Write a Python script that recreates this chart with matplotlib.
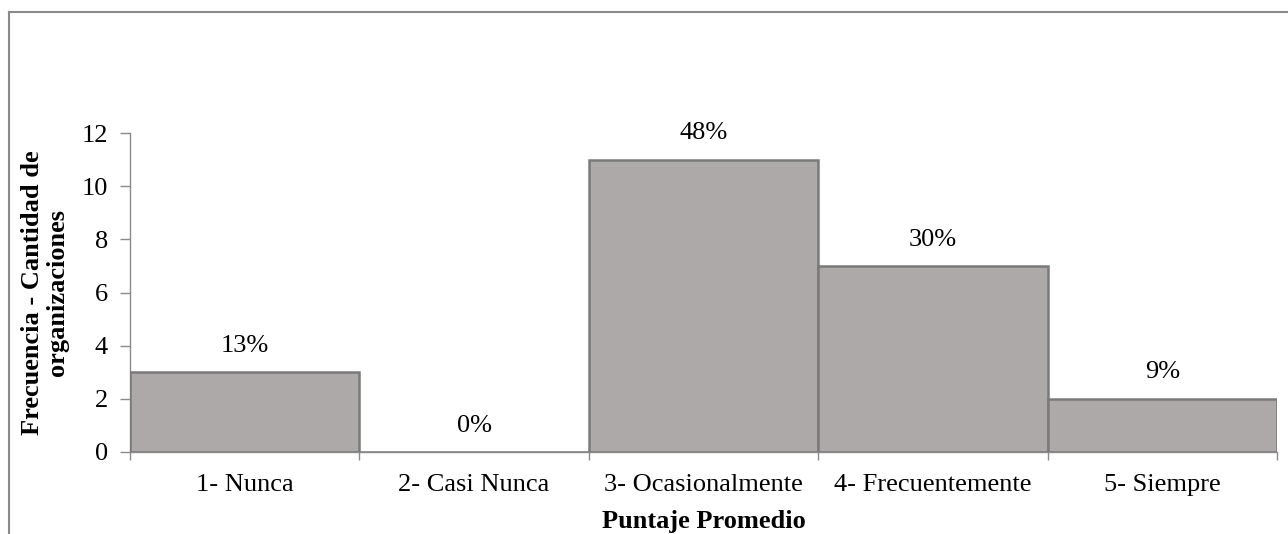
import matplotlib
matplotlib.use("Agg")
import matplotlib.pyplot as plt
from matplotlib.lines import Line2D

categorias = ["1- Nunca", "2- Casi Nunca", "3- Ocasionalmente", "4- Frecuentemente", "5- Siempre"]
frecuencias = [3, 0, 11, 7, 2]
porcentajes = ["13%", "0%", "48%", "30%", "9%"]
yticks = [0, 2, 4, 6, 8, 10, 12]

plt.rcParams["font.family"] = ["Liberation Serif", "DejaVu Serif"]

gris_borde = "#8a8a8a"
fs = 19
fig = plt.figure(figsize=(12.88, 5.34), dpi=100)
ax = fig.add_axes([130 / 1288, 82 / 534, 1147 / 1288, 319 / 534])

x = list(range(len(categorias)))
ax.bar(x, frecuencias, width=1.0, color="#ada9a8", edgecolor="#7a7a7a", linewidth=1.8, zorder=3)

for xi, v, p in zip(x, frecuencias, porcentajes):
    ax.annotate(p, (xi, v), xytext=(0, 19), textcoords="offset points",
                ha="center", va="center", fontsize=fs)

ax.set_xlim(-0.5, len(categorias) - 0.5)
ax.set_ylim(0, 12)
ax.set_yticks(yticks)
ax.set_xticks([i - 0.5 for i in range(len(categorias) + 1)])
ax.set_xticklabels([])
ax.set_xticks(x, minor=True)
ax.set_xticklabels(categorias, minor=True)
ax.tick_params(axis="x", which="major", length=6, color=gris_borde, width=1)
ax.tick_params(axis="x", which="minor", length=0, labelsize=fs, pad=16)
ax.tick_params(axis="y", length=7, color=gris_borde, width=1, labelsize=fs, pad=9)

for s in ("top", "right"):
    ax.spines[s].set_visible(False)
for s in ("left", "bottom"):
    ax.spines[s].set_color(gris_borde)
    ax.spines[s].set_linewidth(1)

ax.set_xlabel("Puntaje Promedio", fontsize=fs, fontweight="bold", labelpad=10)
ax.set_ylabel("Frecuencia - Cantidad de\norganizaciones", fontsize=fs,
              fontweight="bold", labelpad=9, linespacing=1.12)

# marco del gráfico
fig.add_artist(Line2D([9 / 1288, 9 / 1288], [0, 1 - 12 / 534], transform=fig.transFigure,
                      color=gris_borde, linewidth=1.5))
fig.add_artist(Line2D([9 / 1288, 1], [1 - 12 / 534, 1 - 12 / 534], transform=fig.transFigure,
                      color=gris_borde, linewidth=1.5))

fig.savefig("out.png", dpi=100)
